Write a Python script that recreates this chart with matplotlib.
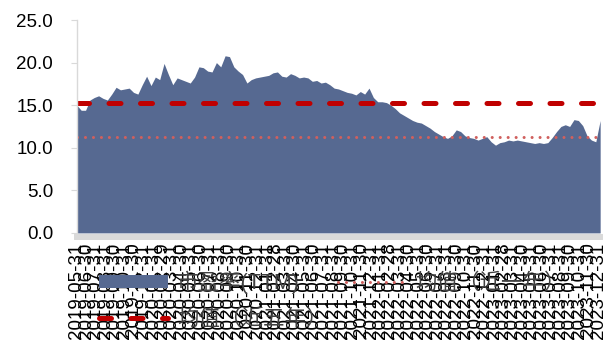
"""PE(TTM) history with long-run and one-year averages."""
import matplotlib
matplotlib.use("Agg")
import matplotlib.pyplot as plt
import matplotlib.dates as mdates
import pandas as pd

plt.rcParams['font.family'] = ['Liberation Sans', 'Noto Sans CJK SC']

# fortnightly PE(TTM) readings starting 2019-05-31
start_date = "2019-05-31"
pe_values = [
    15.0, 14.4, 14.4, 15.6, 15.9, 16.1, 15.8, 15.6, 16.3, 17.1,
    16.8, 16.9, 17.0, 16.5, 16.3, 17.4, 18.4, 17.3, 18.3, 18.0,
    19.9, 18.6, 17.4, 18.2, 18.0, 17.8, 17.6, 18.3, 19.5, 19.4,
    19.0, 18.9, 20.0, 19.5, 20.8, 20.7, 19.5, 19.0, 18.6, 17.6,
    18.0, 18.2, 18.3, 18.4, 18.5, 18.8, 18.9, 18.4, 18.3, 18.7,
    18.5, 18.2, 18.3, 18.2, 17.8, 17.9, 17.6, 17.7, 17.4, 17.0,
    16.9, 16.7, 16.5, 16.4, 16.2, 16.6, 16.3, 17.0, 15.9, 15.4,
    15.4, 15.3, 15.0, 14.6, 14.1, 13.8, 13.5, 13.2, 13.0, 12.9,
    12.6, 12.3, 11.9, 11.6, 11.3, 11.1, 11.4, 12.1, 11.9, 11.4,
    11.2, 11.1, 10.9, 11.1, 11.3, 10.7, 10.3, 10.6, 10.7, 10.9,
    10.8, 10.9, 10.8, 10.7, 10.6, 10.5, 10.6, 10.5, 10.6, 11.2,
    11.9, 12.5, 12.7, 12.5, 13.3, 13.2, 12.6, 11.4, 10.9, 10.7,
    13.2,
]
mean_5y = 15.2
mean_1y = 11.3

series_names = ["市盈率(TTM)", "均值（近五年）", "均值（近一年）"]
y_ticks = [0, 5, 10, 15, 20, 25]

dates = pd.date_range(start_date, periods=len(pe_values), freq="14D")
month_ends = pd.date_range(dates[0], dates[-1], freq="ME")

fig = plt.figure(figsize=(6.05, 3.42), dpi=100)
ax = fig.add_axes([0.127, 0.319, 0.865, 0.6225])

area = ax.fill_between(dates, pe_values, 0, color="#566991", linewidth=0,
                       label=series_names[0])
dash_line, = ax.plot([dates[0], dates[-1]], [mean_5y, mean_5y],
                     color="#C00000", linewidth=3.6, dashes=(2.4, 3.9),
                     dash_capstyle="round", label=series_names[1])
dot_line, = ax.plot([dates[0], dates[-1]], [mean_1y, mean_1y],
                    color="#D0605E", linewidth=2.2, dashes=(0.01, 2.6),
                    dash_capstyle="round", label=series_names[2])

ax.set_xlim(dates[0], dates[-1])
ax.set_ylim(0, 25)
ax.set_yticks(y_ticks)
ax.set_yticklabels([f"{v:.1f}" for v in y_ticks])

ax.set_xticks(month_ends)
ax.xaxis.set_major_formatter(mdates.DateFormatter("%Y-%m-%d"))

# axes styling
for side in ["top", "right"]:
    ax.spines[side].set_visible(False)
ax.spines["left"].set_color("#d9d9d9")
ax.spines["left"].set_linewidth(1)
ax.spines["bottom"].set_color("#d9d9d9")
ax.spines["bottom"].set_linewidth(4.3)
ax.spines["bottom"].set_position(("outward", 3))
ax.tick_params(axis="y", length=4, color="#d9d9d9", pad=13, labelsize=13.5)
ax.tick_params(axis="x", length=0, pad=4, labelsize=13.5, rotation=90)

fig.legend(handles=[area, dash_line, dot_line], loc="upper left",
           bbox_to_anchor=(0.15, 0.233), ncol=2, frameon=False,
           fontsize=15.5, handlelength=3.2, handleheight=0.5,
           handletextpad=0.4, columnspacing=0.5, labelspacing=0.68,
           borderaxespad=0, labelcolor="#404040")

plt.savefig("out.png", dpi=100)
